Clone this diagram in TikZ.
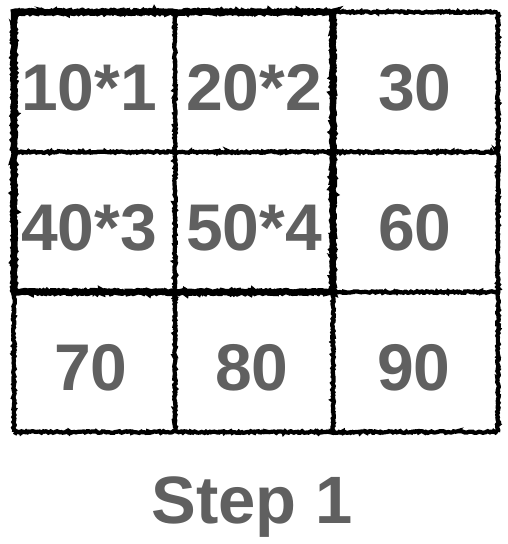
\documentclass[tikz,border=0pt]{standalone}
\usepackage{fontspec}
\setmainfont{Liberation Sans}
\usetikzlibrary{decorations.pathmorphing}
\definecolor{txtgray}{HTML}{606060}
\tikzset{
  rough/.style={draw=black, line width=4.2pt, decorate,
    decoration={random steps, segment length=1.5pt, amplitude=0.9pt}},
  roughthick/.style={rough, line width=6.5pt},
  cell/.style={text=txtgray, font=\bfseries\fontsize{66}{66}\selectfont, inner sep=0pt, anchor=center},
  caption/.style={text=txtgray, font=\bfseries\fontsize{67}{67}\selectfont, inner sep=0pt, anchor=base}
}
\begin{document}
\begin{tikzpicture}[x=1pt,y=-1pt]
\useasboundingbox (0,0) rectangle (508,544);
% grid lines
\foreach \yy in {12,152,292,432} \draw[rough] (14,\yy) -- (498,\yy);
\foreach \xx in {14,175,333,498} \draw[rough] (\xx,12) -- (\xx,432);
% highlight
\draw[roughthick] (14,12) rectangle (333,292);
% cells
\node[cell] (c11) at (89,88) {10*1};
\node[cell] (c12) at (254,88) {20*2};
\node[cell] (c13) at (415,88) {30};
\node[cell] (c21) at (89,228) {40*3};
\node[cell] (c22) at (254,228) {50*4};
\node[cell] (c23) at (415,228) {60};
\node[cell] (c31) at (91,368) {70};
\node[cell] (c32) at (252,368) {80};
\node[cell] (c33) at (414,368) {90};
\node[caption] (cap) at (252,523) {Step 1};
\end{tikzpicture}
\end{document}
